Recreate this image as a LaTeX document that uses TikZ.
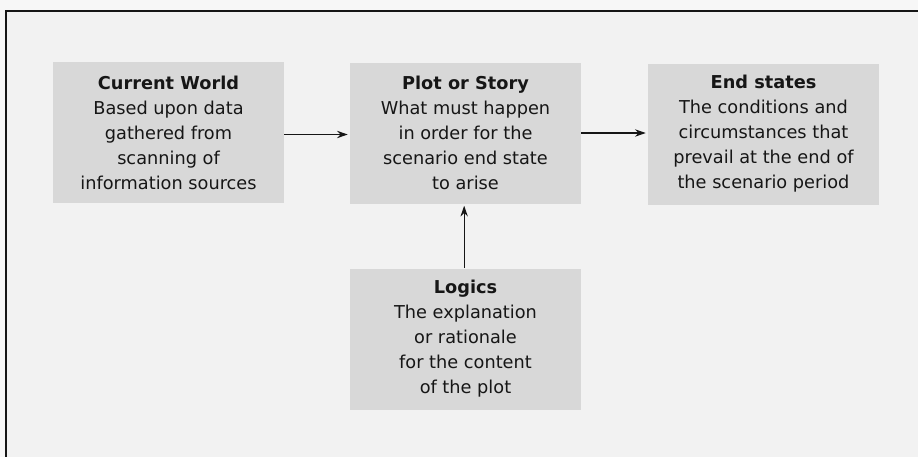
\documentclass[tikz,border=0pt]{standalone}
\usepackage{fontspec}
\setmainfont{DejaVu Sans}
\usetikzlibrary{arrows.meta}
\definecolor{pagebg}{HTML}{F7F7F7}
\definecolor{panelbg}{HTML}{F2F2F2}
\definecolor{boxfill}{HTML}{D8D8D8}
\definecolor{ink}{HTML}{161616}
\begin{document}
\begin{tikzpicture}[x=0.75pt,y=-0.75pt,
  stagebox/.style={fill=boxfill, draw=none, minimum width=173.25pt, minimum height=105.75pt,
    inner sep=0pt, align=center, text=ink,
    font=\fontsize{13.3pt}{18.75pt}\selectfont},
  flow/.style={draw=ink, line width=0.9pt, -{Stealth[length=8pt,width=5.5pt]}}]
  % canvas and frame
  \fill[pagebg] (0,0) rectangle (918,457);
  \useasboundingbox (0,0) rectangle (918,457);
  \fill[panelbg] (6,11) rectangle (918,457);
  \draw[ink, line width=1.4pt] (6,457) -- (6,11) -- (918,11);
  % stages
  \node[stagebox] (cw) at (168.5,132.5) {\textbf{Current World}\\Based upon data\\gathered from\\scanning of\\information sources};
  \node[stagebox] (plot) at (465.5,133) {\textbf{Plot or Story}\\What must happen\\in order for the\\scenario end state\\to arise};
  \node[stagebox] (end) at (763.5,134) {\textbf{End states}\\The conditions and\\circumstances that\\prevail at the end of\\the scenario period};
  \node[stagebox] (logics) at (465.5,339) {\textbf{Logics}\\The explanation\\or rationale\\for the content\\of the plot};
  % connectors
  \draw[flow] ([yshift=-1.5pt]cw.east) -- ([xshift=-1.5pt,yshift=-1.5pt]plot.west |- cw.east);
  \draw[flow] (plot.east) -- ([xshift=-1.5pt]end.west |- plot.east);
  \draw[flow] ([xshift=-1pt]logics.north) -- ([xshift=-1pt,yshift=-1.5pt]plot.south);
\end{tikzpicture}
\end{document}
